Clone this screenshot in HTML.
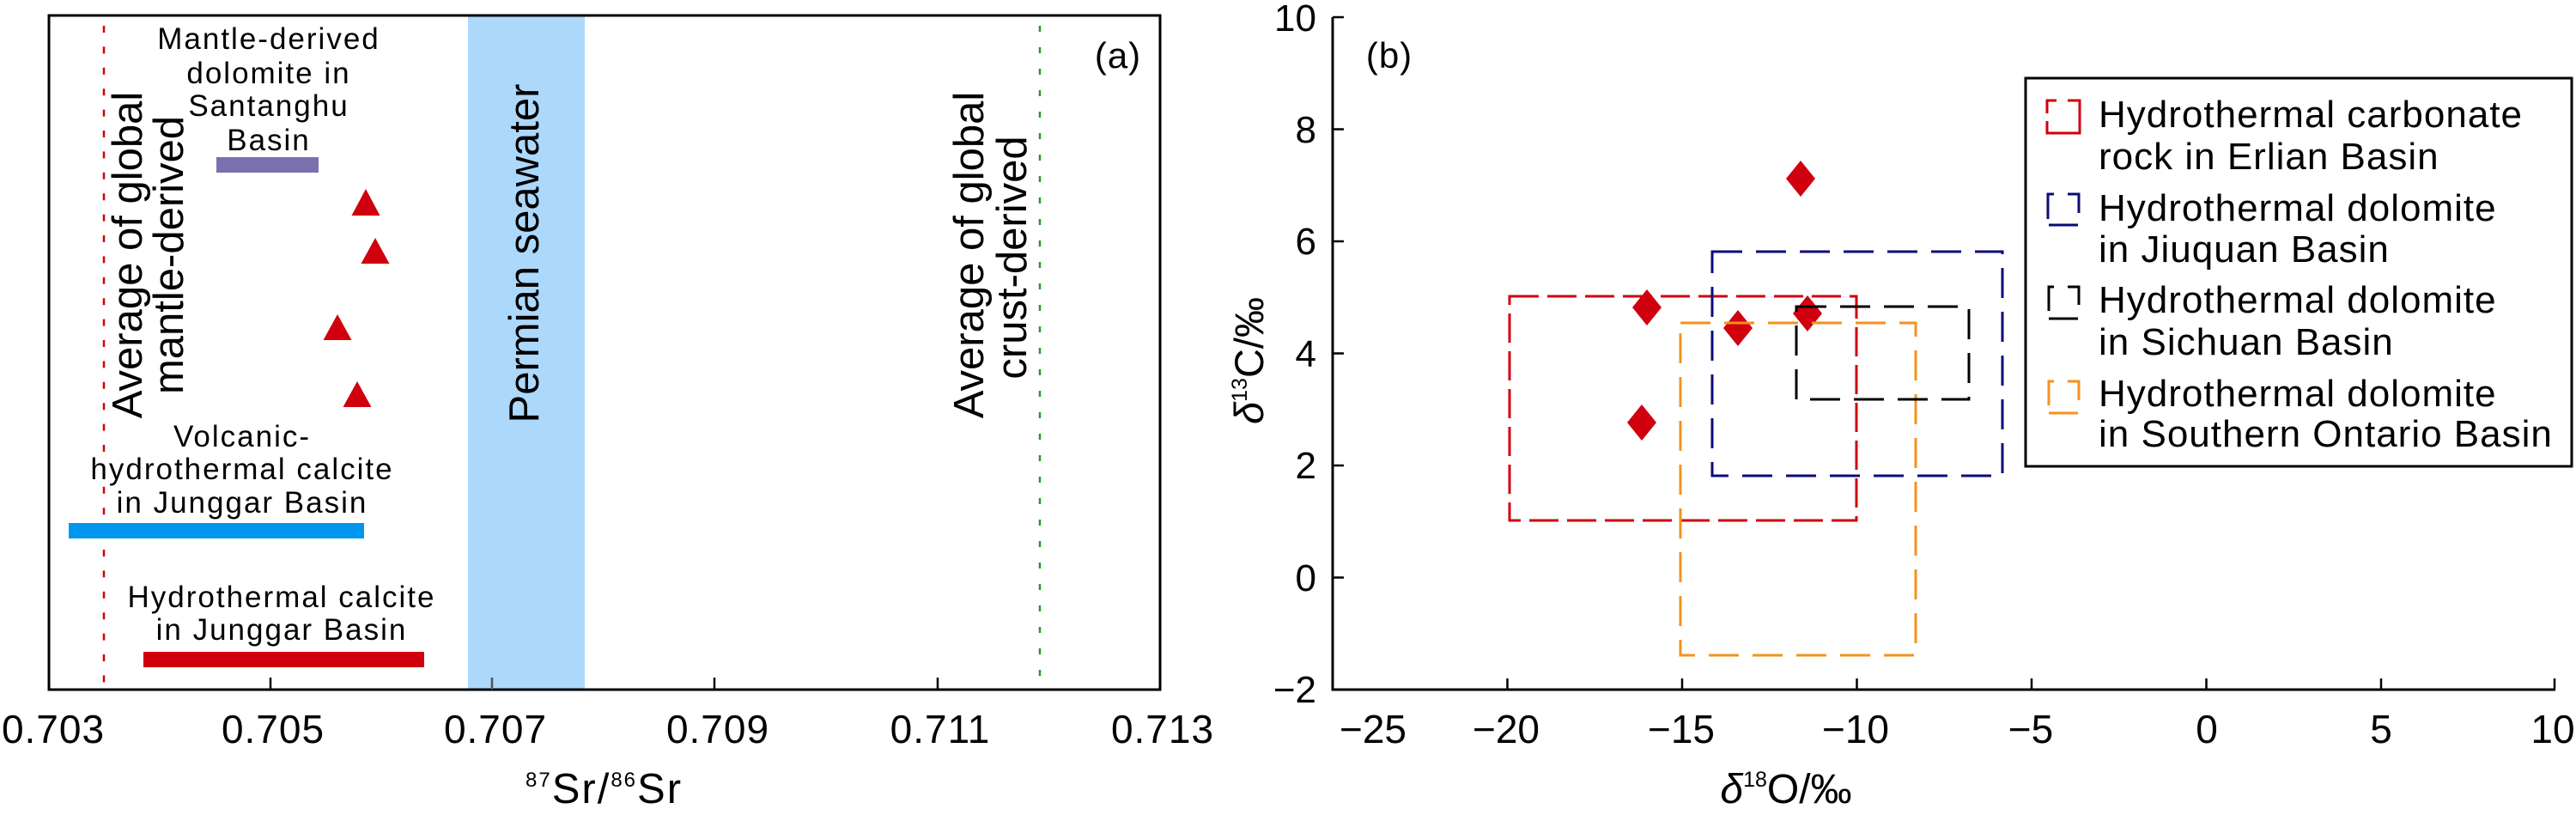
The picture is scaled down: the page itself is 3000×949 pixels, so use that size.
<!DOCTYPE html>
<html>
<head>
<meta charset="utf-8">
<style>
  html,body{margin:0;padding:0;background:#fff;}
  svg{display:block;}
  text{font-family:"Liberation Sans",Arial,sans-serif;fill:#000;}
</style>
</head>
<body>
<svg width="3000" height="949" viewBox="0 0 3000 949" xmlns="http://www.w3.org/2000/svg">
  <rect x="0" y="0" width="3000" height="949" fill="#fff"/>

  <!-- ================= PANEL (a) ================= -->
  <!-- Permian seawater band -->
  <rect x="545" y="18" width="136" height="785" fill="#acd8fb"/>

  <!-- dashed reference lines -->
  <line x1="121" y1="30" x2="121" y2="803" stroke="#d0000f" stroke-width="2.5" stroke-dasharray="8 16.4"/>
  <line x1="1211" y1="30" x2="1211" y2="803" stroke="#1f9e2a" stroke-width="2.5" stroke-dasharray="7 18"/>

  <!-- bars -->
  <rect x="252" y="183" width="119" height="18" fill="#7a70ae"/>
  <rect x="80" y="609" width="344" height="18" fill="#0096ee"/>
  <rect x="167" y="759" width="327" height="18" fill="#d0000f"/>

  <!-- triangles -->
  <polygon points="426,220 409.5,251 442.5,251" fill="#d0000f"/>
  <polygon points="437,277 420.5,307 453.5,307" fill="#d0000f"/>
  <polygon points="393,366 376.5,396 409.5,396" fill="#d0000f"/>
  <polygon points="416,444 399.5,474 432.5,474" fill="#d0000f"/>

  <!-- frame -->
  <rect x="57" y="18" width="1294" height="785" fill="none" stroke="#000" stroke-width="3"/>

  <!-- ticks -->
  <g stroke="#000" stroke-width="2.5">
    <line x1="315" y1="789" x2="315" y2="803"/>
    <line x1="573" y1="789" x2="573" y2="803" stroke="#4a5560"/>
    <line x1="832" y1="789" x2="832" y2="803"/>
    <line x1="1092" y1="789" x2="1092" y2="803"/>
  </g>

  <!-- tick labels -->
  <g font-size="46" text-anchor="middle" letter-spacing="1">
    <text x="62" y="865">0.703</text>
    <text x="318" y="865">0.705</text>
    <text x="577" y="865">0.707</text>
    <text x="836" y="865">0.709</text>
    <text x="1095" y="865">0.711</text>
    <text x="1354" y="865">0.713</text>
  </g>

  <!-- x axis title -->
  <text x="612" y="935" font-size="49" letter-spacing="2"><tspan font-size="24" dy="-19">87</tspan><tspan dy="19">Sr/</tspan><tspan font-size="24" dy="-19">86</tspan><tspan dy="19">Sr</tspan></text>

  <!-- annotation texts -->
  <g font-size="35" text-anchor="middle" letter-spacing="2">
    <text x="313" y="57">Mantle-derived</text>
    <text x="313" y="97">dolomite in</text>
    <text x="313" y="135">Santanghu</text>
    <text x="313" y="175">Basin</text>

    <text x="282" y="520">Volcanic-</text>
    <text x="282" y="558">hydrothermal calcite</text>
    <text x="282" y="597">in Junggar Basin</text>

    <text x="328" y="707">Hydrothermal calcite</text>
    <text x="328" y="745">in Junggar Basin</text>
  </g>

  <g font-size="49" text-anchor="middle">
    <text transform="translate(165,297) rotate(-90)">Average of global</text>
    <text transform="translate(213,297) rotate(-90)">mantle-derived</text>
    <text transform="translate(627,295) rotate(-90)">Permian seawater</text>
    <text transform="translate(1145,297) rotate(-90)">Average of global</text>
    <text transform="translate(1195,300) rotate(-90)">crust-derived</text>
  </g>

  <text x="1302" y="79" font-size="42" text-anchor="middle" letter-spacing="1">(a)</text>

  <!-- ================= PANEL (b) ================= -->
  <!-- diamonds -->
  <g fill="#d0000f">
    <polygon points="2097,187 2114,208 2097,229 2080,208"/>
    <polygon points="1918,337 1935,358 1918,379 1901,358"/>
    <polygon points="2024,361 2041,382 2024,403 2007,382"/>
    <polygon points="2105,344 2122,365 2105,386 2088,365"/>
    <polygon points="1912,471 1929,492 1912,513 1895,492"/>
  </g>

  <!-- dashed boxes -->
  <rect x="1758" y="345" width="404" height="261" fill="none" stroke="#d0000f" stroke-width="3" stroke-dasharray="34 10"/>
  <rect x="1994" y="293" width="338" height="261" fill="none" stroke="#0b0b7a" stroke-width="3" stroke-dasharray="35 16"/>
  <rect x="1957" y="376" width="274" height="387" fill="none" stroke="#f5921e" stroke-width="3" stroke-dasharray="35 16"/>
  <rect x="2092" y="357" width="201" height="108" fill="none" stroke="#000" stroke-width="3" stroke-dasharray="35 16"/>

  <!-- axes -->
  <path d="M1552,20 V803 H2976" fill="none" stroke="#000" stroke-width="3"/>
  <g stroke="#000" stroke-width="2.5">
    <line x1="1552" y1="20" x2="1565" y2="20"/>
    <line x1="1552" y1="150.5" x2="1565" y2="150.5"/>
    <line x1="1552" y1="281" x2="1565" y2="281"/>
    <line x1="1552" y1="411.5" x2="1565" y2="411.5"/>
    <line x1="1552" y1="542" x2="1565" y2="542"/>
    <line x1="1552" y1="672.5" x2="1565" y2="672.5"/>
    <line x1="1552" y1="803" x2="1565" y2="803"/>

    <line x1="1755.5" y1="790" x2="1755.5" y2="803"/>
    <line x1="1959" y1="790" x2="1959" y2="803"/>
    <line x1="2162.5" y1="790" x2="2162.5" y2="803"/>
    <line x1="2366" y1="790" x2="2366" y2="803"/>
    <line x1="2569.5" y1="790" x2="2569.5" y2="803"/>
    <line x1="2773" y1="790" x2="2773" y2="803"/>
    <line x1="2975" y1="790" x2="2975" y2="803"/>
  </g>

  <!-- y tick labels -->
  <g font-size="44" text-anchor="end">
    <text x="1533" y="36">10</text>
    <text x="1533" y="166">8</text>
    <text x="1533" y="296">6</text>
    <text x="1533" y="427">4</text>
    <text x="1533" y="557">2</text>
    <text x="1533" y="688">0</text>
    <text x="1533" y="818">−2</text>
  </g>

  <!-- x tick labels -->
  <g font-size="46" text-anchor="middle">
    <text x="1599" y="865">−25</text>
    <text x="1754" y="865">−20</text>
    <text x="1958" y="865">−15</text>
    <text x="2161" y="865">−10</text>
    <text x="2365" y="865">−5</text>
    <text x="2570" y="865">0</text>
    <text x="2773" y="865">5</text>
    <text x="2973" y="865">10</text>
  </g>

  <!-- axis titles -->
  <text x="2080" y="935" font-size="48" text-anchor="middle"><tspan font-style="italic">δ</tspan><tspan font-size="25" dy="-19">18</tspan><tspan dy="19">O/‰</tspan></text>
  <text transform="translate(1471,420) rotate(-90)" font-size="47" text-anchor="middle"><tspan font-style="italic">δ</tspan><tspan font-size="25" dy="-19">13</tspan><tspan dy="19">C/‰</tspan></text>

  <text x="1618" y="79" font-size="42" text-anchor="middle" letter-spacing="1">(b)</text>

  <!-- legend -->
  <rect x="2359" y="91" width="636" height="452" fill="#fff" stroke="#000" stroke-width="3"/>
  <g fill="none" stroke-width="3">
    <path d="M2384,132 V117 H2395 M2408,117 H2422 V155 H2384 V141" stroke="#d0000f"/>
    <path d="M2392,226 H2385 V255 M2408,226 H2421 V248 M2386,262 H2420" stroke="#0b0b7a"/>
    <path d="M2392,334 H2386 V362 M2408,334 H2421 V355 M2386,371 H2420" stroke="#000"/>
    <path d="M2392,444 H2386 V472 M2408,444 H2421 V466 M2386,481 H2420" stroke="#f5921e"/>
  </g>
  <g font-size="44" letter-spacing="1">
    <text x="2444" y="148">Hydrothermal carbonate</text>
    <text x="2444" y="197">rock in Erlian Basin</text>
    <text x="2444" y="257">Hydrothermal dolomite</text>
    <text x="2444" y="305">in Jiuquan Basin</text>
    <text x="2444" y="364">Hydrothermal dolomite</text>
    <text x="2444" y="413">in Sichuan Basin</text>
    <text x="2444" y="473">Hydrothermal dolomite</text>
    <text x="2444" y="520">in Southern Ontario Basin</text>
  </g>
</svg>
</body>
</html>
